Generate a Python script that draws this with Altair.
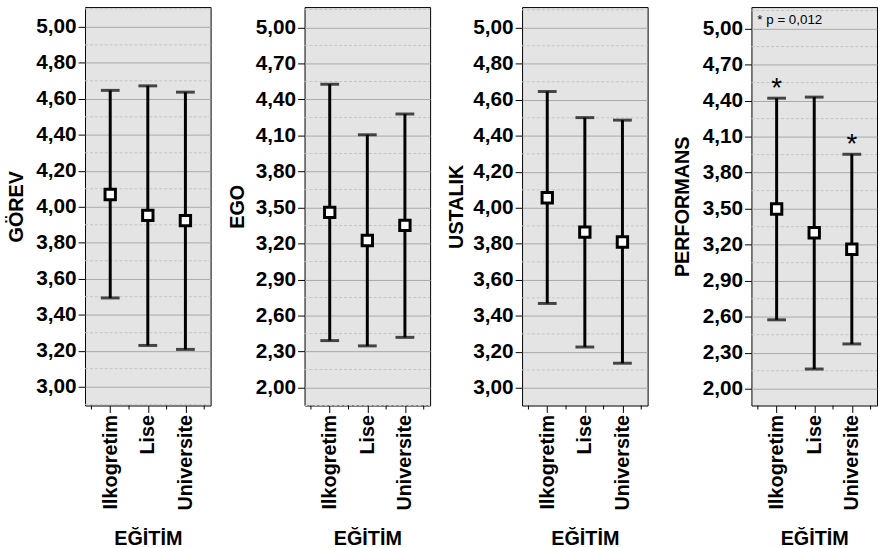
import altair as alt
import pandas as pd

categories = ["Ilkogretim", "Lise", "Universite"]
x_title = "EĞİTİM"

gorev_mean = [4.068, 3.952, 3.923]
gorev_low = [3.493, 3.229, 3.207]
gorev_high = [4.647, 4.672, 4.637]

ego_mean = [3.459, 3.225, 3.351]
ego_low = [2.391, 2.347, 2.418]
ego_high = [4.527, 4.106, 4.279]

ustalik_mean = [4.056, 3.865, 3.810]
ustalik_low = [3.469, 3.227, 3.137]
ustalik_high = [4.646, 4.501, 4.487]

perf_mean = [3.497, 3.299, 3.162]
perf_low = [2.574, 2.164, 2.373]
perf_high = [4.420, 4.429, 3.953]
perf_sig = ["*", "", "*"]
note_text = "* p = 0,012"

gorev_ticks = [3.0, 3.2, 3.4, 3.6, 3.8, 4.0, 4.2, 4.4, 4.6, 4.8, 5.0]
ego_ticks = [2.0, 2.3, 2.6, 2.9, 3.2, 3.5, 3.8, 4.1, 4.4, 4.7, 5.0]
ustalik_ticks = [3.0, 3.2, 3.4, 3.6, 3.8, 4.0, 4.2, 4.4, 4.6, 4.8, 5.0]
perf_ticks = [2.0, 2.3, 2.6, 2.9, 3.2, 3.5, 3.8, 4.1, 4.4, 4.7, 5.0]
x_minor_ticks = [0.5, 1.5, 2.5, 3.5]

FONT = "Liberation Sans"
BG = "#e4e4e4"
GRID_MAJOR = "#a9a9a9"
GRID_MINOR = "#c4c4c4"
W, H = 127, 403


def panel(title, mean, low, high, ticks, domain, title_pad, sig=None, note=None):
    df = pd.DataFrame({
        "idx": [i + 1 for i in range(len(categories))],
        "cat": categories,
        "mean": mean,
        "low": low,
        "high": high,
    })
    half = (ticks[1] - ticks[0]) / 2
    minors = [round(t + half, 3) for t in ticks] + [round(ticks[0] - half, 3)]
    minors = [v for v in minors if domain[0] <= v <= domain[1]]
    gdf = pd.DataFrame({"g": minors})
    mdf = pd.DataFrame({"m": x_minor_ticks})

    yaxis = alt.Axis(
        title=title,
        values=ticks,
        labelExpr="replace(format(datum.value, '.2f'), '.', ',')",
        labelFont=FONT, labelFontSize=21, labelFontWeight="bold", labelColor="black",
        labelPadding=2, labelOverlap=False,
        tickSize=7, tickColor="black", tickWidth=1,
        grid=True, gridColor=GRID_MAJOR, gridWidth=1,
        domain=False,
        minExtent=50, maxExtent=50,
        titleFont=FONT, titleFontSize=20, titleFontWeight="bold", titleColor="black",
        titlePadding=title_pad,
    )
    xlab = " : ".join(f"datum.value == {i + 1} ? '{c}'" for i, c in enumerate(categories)) + " : ''"
    xaxis = alt.Axis(
        title=x_title,
        values=[1, 2, 3],
        labelExpr=xlab,
        labelAngle=270,
        labelFont=FONT, labelFontSize=20, labelFontWeight="bold", labelColor="black",
        labelPadding=2, labelOverlap=False,
        tickSize=7, tickColor="black", tickWidth=1,
        grid=False, domain=False,
        minExtent=106, maxExtent=106,
        titleFont=FONT, titleFontSize=20, titleFontWeight="bold", titleColor="black",
        titlePadding=19,
    )
    xscale = alt.Scale(domain=[0.33, 3.67], nice=False, zero=False)
    yscale = alt.Scale(domain=domain, nice=False, zero=False)

    minor_grid = alt.Chart(gdf).mark_rule(color=GRID_MINOR, strokeWidth=1,
                                          strokeDash=[3, 2]).encode(
        y=alt.Y("g:Q", scale=yscale, axis=yaxis),
        x=alt.value(0), x2=alt.value(W),
    )
    minor_x = alt.Chart(mdf).mark_rule(color="black", strokeWidth=1).encode(
        x=alt.X("m:Q", scale=xscale, axis=xaxis),
        y=alt.value(H), y2=alt.value(H + 4),
    )
    base = alt.Chart(df)
    bars = base.mark_rule(color="black", strokeWidth=3).encode(
        x=alt.X("idx:Q", scale=xscale, axis=xaxis),
        y=alt.Y("low:Q", scale=yscale, axis=yaxis), y2="high:Q"
    )
    cap_lo = base.mark_tick(orient="horizontal", size=19, thickness=3, color="black").encode(
        x="idx:Q", y="low:Q"
    )
    cap_hi = base.mark_tick(orient="horizontal", size=19, thickness=3, color="black").encode(
        x="idx:Q", y="high:Q"
    )
    pts = base.mark_point(shape="square", size=110, filled=True, fill="white",
                          stroke="black", strokeWidth=3, opacity=1).encode(
        x="idx:Q", y="mean:Q"
    )
    layers = [minor_grid, minor_x, bars, cap_lo, cap_hi, pts]
    if sig is not None:
        sdf = pd.DataFrame({"idx": df["idx"], "high": high, "sig": sig})
        stars = alt.Chart(sdf).mark_text(font=FONT, fontSize=28, baseline="alphabetic",
                                         dy=-1, color="black").encode(
            x="idx:Q", y="high:Q", text="sig:N"
        )
        layers.append(stars)
    if note is not None:
        ndf = pd.DataFrame({"t": [note]})
        nt = alt.Chart(ndf).mark_text(font=FONT, fontSize=13.5, align="left", baseline="middle",
                                      color="black").encode(
            x=alt.value(6), y=alt.value(13), text="t:N"
        )
        layers.append(nt)
    return alt.layer(*layers).properties(width=W, height=H)


p1 = panel("GÖREV", gorev_mean, gorev_low, gorev_high, gorev_ticks, [2.895, 5.11], 9)
p2 = panel("EGO", ego_mean, ego_low, ego_high, ego_ticks, [1.85, 5.17], 8)
p3 = panel("USTALIK", ustalik_mean, ustalik_low, ustalik_high, ustalik_ticks, [2.902, 5.115], 6)
p4 = panel("PERFORMANS", perf_mean, perf_low, perf_high, perf_ticks, [1.86, 5.179], 10,
           sig=perf_sig, note=note_text)

chart = alt.hconcat(
    alt.hconcat(p1, p2, p3, spacing=15),
    p4,
    spacing=23,
).properties(
    padding={"left": 6, "top": 3, "right": 0, "bottom": 0},
    background="white",
).configure_view(
    stroke="black", strokeWidth=1, fill=BG
)

chart.save("out.html", embed_options={"renderer": "svg", "actions": False})
